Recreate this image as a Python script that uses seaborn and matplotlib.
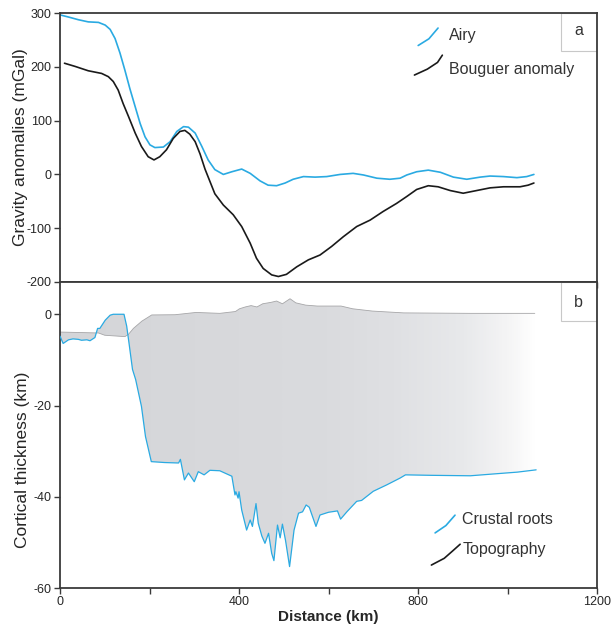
import numpy as np
import pandas as pd
import matplotlib
matplotlib.use("Agg")
import matplotlib.pyplot as plt
from matplotlib.colors import LinearSegmentedColormap
import seaborn as sns

#%% data

# panel a: gravity anomalies (mGal) along the profile (km)
airy_km = [0, 19, 41, 63, 86, 101, 112, 123, 134, 145, 156, 168, 179, 190, 201,
           212, 231, 246, 261, 276, 287, 302, 317, 331, 346, 365, 384, 406, 425, 447,
           465, 484, 503, 521, 544, 570, 596, 626, 655, 678, 708, 737, 760, 775, 797,
           823, 850, 879, 909, 939, 961, 991, 1021, 1043, 1059]
airy_mgal = [297, 293, 288, 284, 283, 278, 270, 253, 226, 194, 160, 126, 95, 70, 55,
             50, 51, 61, 80, 89, 88, 77, 52, 27, 9, 0, 5, 10, 2, -12,
             -20, -21, -16, -9, -4, -5, -4, 0, 2, -1, -7, -9, -7, -1, 5,
             8, 4, -5, -9, -5, -3, -4, -6, -4, 0]

boug_km = [10, 34, 63, 93, 108, 119, 130, 141, 153, 168, 182, 197, 210, 223, 238,
           253, 268, 279, 290, 302, 313, 324, 346, 365, 387, 406, 425, 439, 454, 473,
           488, 506, 529, 555, 581, 607, 633, 663, 693, 722, 752, 775, 797, 823, 845,
           872, 901, 931, 961, 991, 1028, 1046, 1059]
boug_mgal = [207, 201, 193, 188, 182, 173, 157, 132, 108, 77, 52, 33, 27, 33, 46,
             67, 80, 82, 75, 61, 38, 10, -36, -57, -75, -97, -128, -156, -175, -187,
             -190, -186, -172, -159, -150, -134, -116, -97, -85, -69, -54, -41, -28, -21, -23,
             -30, -35, -30, -25, -23, -23, -20, -16]

# panel b: topography surface and crustal roots (km)
topo_km = [0, 86, 100, 145, 153, 164, 183, 205, 257, 304, 357, 392, 401, 414, 427, 440,
           453, 471, 484, 497, 514, 527, 549, 575, 628, 654, 698, 768, 917, 1061]
topo_depth = [-3.9, -4.1, -4.6, -4.9, -4.4, -3.1, -1.5, -0.15, -0.1, 0.4, 0.2, 0.6, 1.2, 1.6, 1.9, 1.6,
              2.3, 2.6, 2.9, 2.3, 3.4, 2.5, 2.0, 1.8, 1.8, 1.2, 0.7, 0.3, 0.2, 0.2]

root_km = [0, 7, 19, 29, 41, 48, 60, 67, 78, 84, 89, 101, 112, 119, 143, 149, 154, 162,
           169, 182, 191, 204, 234, 265, 269, 278, 287, 300, 309, 322, 335, 357,
           384, 391, 393, 398, 400, 406, 417, 425, 430, 438, 443, 451, 458, 466, 473, 478,
           486, 492, 497, 504, 513, 523, 533, 542, 550, 557, 572, 581, 600, 620, 627, 641,
           663, 674, 700, 730, 760, 772, 829, 917, 969, 1022, 1064]
root_depth = [-4.8, -6.4, -5.6, -5.4, -5.5, -5.7, -5.6, -5.8, -5.1, -3.1, -3.1, -1.3, -0.2, 0.0, 0.0, -2.6, -6.2, -12.1,
              -14.3, -20.2, -26.8, -32.3, -32.5, -32.6, -31.8, -36.3, -34.8, -36.7, -34.5, -35.2, -34.2, -34.3,
              -35.5, -39.6, -38.9, -40.3, -38.9, -42.9, -47.3, -45.1, -46.5, -41.5, -45.8, -48.6, -50.2, -48.0, -52.4, -54.0,
              -46.2, -49.0, -46.0, -49.6, -55.3, -47.3, -43.6, -43.3, -41.8, -42.3, -46.5, -44.0, -43.4, -43.1, -44.9, -43.3,
              -41.0, -40.8, -38.8, -37.4, -35.9, -35.2, -35.3, -35.4, -35.0, -34.6, -34.1]

#%% styling

sns.set_style("white")
plt.rcParams['font.family'] = ['Liberation Sans', 'DejaVu Sans']
plt.rcParams['axes.unicode_minus'] = False

cyan = '#2aaae2'
spine_col = '#3a3a3a'

fig = plt.figure(figsize=(6.13, 6.32), dpi=100)
ax1 = fig.add_axes([0.0979, 0.554, 0.876, 0.425])
ax2 = fig.add_axes([0.0979, 0.0696, 0.876, 0.4844])

for ax in (ax1, ax2):
    for s in ax.spines.values():
        s.set_color(spine_col)
        s.set_linewidth(1.3)
    ax.set_xlim(0, 1200)
    ax.set_xticks([0, 400, 800, 1200])
    ax.set_xticks([200, 600, 1000], minor=True)
    ax.tick_params(axis='both', which='both', direction='out', length=4, width=1.0,
                   color=spine_col, labelsize=9, pad=2, left=True, bottom=True)

#%% panel a

airy = pd.DataFrame({'km': airy_km, 'mgal': airy_mgal})
boug = pd.DataFrame({'km': boug_km, 'mgal': boug_mgal})
sns.lineplot(data=airy, x='km', y='mgal', ax=ax1, color=cyan, lw=1.2, sort=False, estimator=None)
sns.lineplot(data=boug, x='km', y='mgal', ax=ax1, color='#1a1a1a', lw=1.2, sort=False, estimator=None)
ax1.set_ylim(-200, 300)
ax1.set_yticks([-200, -100, 0, 100, 200, 300])
ax1.set_xticklabels([])
ax1.set_xlabel('')
ax1.set_ylabel('Gravity anomalies (mGal)', fontsize=12.5)
ax1.yaxis.set_label_coords(-0.06, 0.5)

# hand drawn legend
ax1.plot([0.667, 0.687, 0.704], [0.880, 0.905, 0.945], transform=ax1.transAxes, color=cyan, lw=1.2)
ax1.plot([0.660, 0.684, 0.703, 0.712], [0.770, 0.792, 0.817, 0.844], transform=ax1.transAxes,
         color='#1a1a1a', lw=1.2)
ax1.text(0.724, 0.917, 'Airy', transform=ax1.transAxes, fontsize=11.5, va='center', color='#333333')
ax1.text(0.724, 0.789, 'Bouguer anomaly', transform=ax1.transAxes, fontsize=11.5, va='center', color='#333333')

# panel letter box
ax1.add_patch(plt.Rectangle((0.933, 0.860), 0.067, 0.140, transform=ax1.transAxes,
                            fill=False, edgecolor='#c8c8c8', lw=0.8))
ax1.text(0.966, 0.934, 'a', transform=ax1.transAxes, fontsize=11.5, ha='center', va='center', color='#333333')

#%% panel b

# gray body between topography and roots, fading to white at the end of the profile
poly_x = list(topo_km) + list(root_km[::-1])
poly_y = list(topo_depth) + list(root_depth[::-1])
body = ax2.fill(poly_x, poly_y, facecolor='none', edgecolor='none')[0]
grad = LinearSegmentedColormap.from_list('fade', [
    (0.0, '#d4d5d8'), (0.56, '#dadbde'), (0.70, '#dfe0e3'),
    (0.85, '#e8e9eb'), (0.94, '#f4f4f5'), (1.0, '#ffffff')])
im = ax2.imshow(np.linspace(0, 1, 300).reshape(1, -1), cmap=grad, aspect='auto',
                extent=[0, 1064, -60, 7], origin='lower', zorder=1)
im.set_clip_path(body)

topo = pd.DataFrame({'km': topo_km, 'depth': topo_depth})
roots = pd.DataFrame({'km': root_km, 'depth': root_depth})
sns.lineplot(data=topo, x='km', y='depth', ax=ax2, color='#a6a6a8', lw=0.6, sort=False, estimator=None, zorder=2)
sns.lineplot(data=roots, x='km', y='depth', ax=ax2, color=cyan, lw=0.9, sort=False, estimator=None, zorder=3)

ax2.set_xlim(0, 1200)
ax2.set_ylim(-60, 7.1)
ax2.set_yticks([-60, -40, -20, 0])
ax2.set_xlabel('Distance (km)', fontsize=11, fontweight='bold', labelpad=1)
ax2.set_ylabel('Cortical thickness (km)', fontsize=12.5)
ax2.yaxis.set_label_coords(-0.055, 0.418)

ax2.plot([0.6985, 0.7186, 0.7356], [0.180, 0.204, 0.238], transform=ax2.transAxes, color=cyan, lw=1.2)
ax2.plot([0.6916, 0.7155, 0.7311, 0.7451], [0.075, 0.097, 0.121, 0.143], transform=ax2.transAxes,
         color='#1a1a1a', lw=1.2)
ax2.text(0.749, 0.225, 'Crustal roots', transform=ax2.transAxes, fontsize=11.5, va='center', color='#333333')
ax2.text(0.749, 0.127, 'Topography', transform=ax2.transAxes, fontsize=11.5, va='center', color='#333333')

ax2.add_patch(plt.Rectangle((0.933, 0.873), 0.067, 0.127, transform=ax2.transAxes,
                            fill=False, edgecolor='#c8c8c8', lw=0.8))
ax2.text(0.966, 0.933, 'b', transform=ax2.transAxes, fontsize=11.5, ha='center', va='center', color='#333333')

fig.savefig('out.png', dpi=100)
